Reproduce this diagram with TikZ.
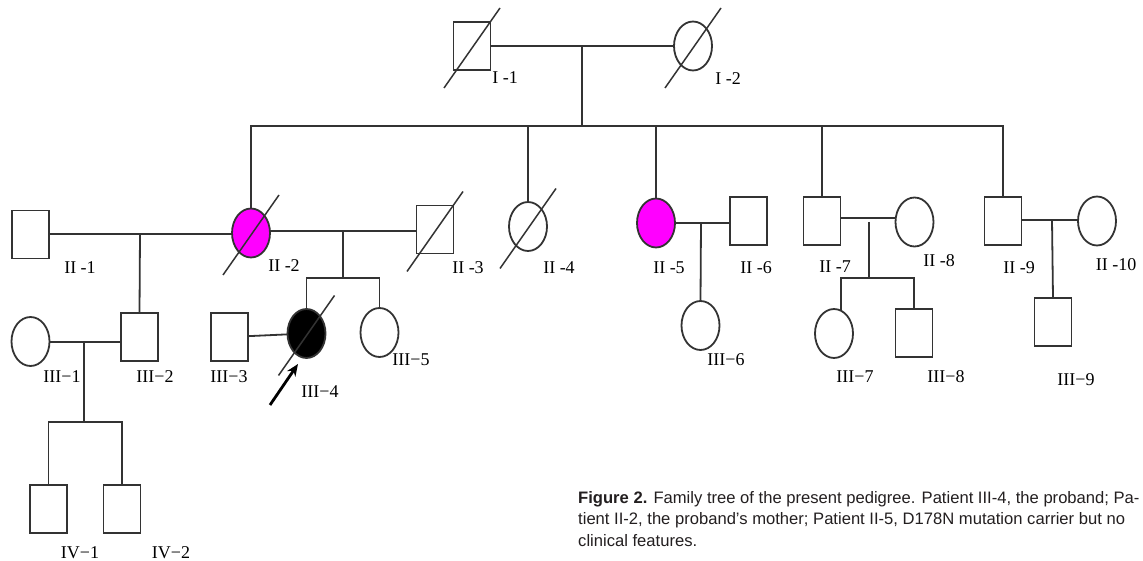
\documentclass[tikz,border=0pt]{standalone}
\usepackage{fontspec}
\usetikzlibrary{shapes.geometric,arrows.meta,calc}
\newfontfamily\lblfont{Liberation Serif}
\newfontfamily\capfont{Liberation Sans}
\definecolor{pedline}{HTML}{333333}
\definecolor{affmag}{HTML}{FF00FF}
\definecolor{captext}{HTML}{231F20}
\tikzset{
  pedlink/.style={draw=pedline, line width=1.8pt},
  male/.style={draw=pedline, line width=1.8pt, rectangle, minimum width=37pt, minimum height=48pt, inner sep=0pt, outer sep=0pt},
  female/.style={draw=pedline, line width=1.8pt, ellipse, minimum width=38pt, minimum height=49pt, inner sep=0pt, outer sep=0pt},
  carrier/.style={fill=affmag},
  affected/.style={fill=black},
  slashln/.style={draw=pedline, line width=1.5pt},
  idlbl/.style={font=\lblfont\fontsize{18}{18}\selectfont, text=black, inner sep=0pt},
  captionln/.style={font=\capfont\fontsize{16.6}{21}\selectfont, text=captext, inner sep=0pt, anchor=base west},
  probarrow/.style={draw=black, line width=2.8pt, -{Stealth[length=12pt,width=10pt]}}
}
\newcommand\deadslash[1]{\draw[slashln] ($(#1)+(-28,42)$) -- ($(#1)+(28,-38)$);}
\begin{document}
\begin{tikzpicture}[x=1pt,y=-1pt]
\useasboundingbox (0,0) rectangle (1143,561);
\fill[white] (0,0) rectangle (1143,561);
\clip (0,0) rectangle (1143,561);

% generation I
\node[male]   (I1) at (472,46) {};
\node[female] (I2) at (693,46) {};
\deadslash{I1}
\deadslash{I2}
\node[idlbl] (lI1) at (505,78) {I -1};
\node[idlbl] (lI2) at (728,79) {I -2};

% generation II
\node[male]            (II1)  at (30.5,234.5) {};
\node[female,carrier]  (II2)  at (251,233) {};
\node[male]            (II3)  at (435,229.5) {};
\node[female]          (II4)  at (528,226.5) {};
\node[female,carrier]  (II5)  at (656,223) {};
\node[male]            (II6)  at (748.5,221) {};
\node[male]            (II7)  at (822,221) {};
\node[female]          (II8)  at (914.5,222) {};
\node[male]            (II9)  at (1003,221) {};
\node[female]          (II10) at (1097,221) {};
\deadslash{II2}
\deadslash{II3}
\deadslash{II4}

\node[idlbl] at (80,268)   {II -1};
\node[idlbl] at (284,266)  {II -2};
\node[idlbl] at (468,268)  {II -3};
\node[idlbl] at (559,268)  {II -4};
\node[idlbl] at (669,268)  {II -5};
\node[idlbl] at (756,268)  {II -6};
\node[idlbl] at (835,267)  {II -7};
\node[idlbl] at (939,261)  {II -8};
\node[idlbl] at (1019,268) {II -9};
\node[idlbl] at (1116,265) {II -10};

% generation III
\node[female]          (III1) at (30.5,341.5) {};
\node[male]            (III2) at (139.5,337) {};
\node[male]            (III3) at (229.5,337) {};
\node[female,affected] (III4) at (306.5,333.5) {};
\node[female]          (III5) at (379.5,332.5) {};
\node[female]          (III6) at (700.5,325.5) {};
\node[female]          (III7) at (834,333.5) {};
\node[male]            (III8) at (914,333) {};
\node[male]            (III9) at (1053,322) {};
\deadslash{III4}

\node[idlbl] at (62,377)   {III−1};
\node[idlbl] at (155,377)  {III−2};
\node[idlbl] at (229,377)  {III−3};
\node[idlbl] at (320,392)  {III−4};
\node[idlbl] at (411,360)  {III−5};
\node[idlbl] at (726,360)  {III−6};
\node[idlbl] at (855,377)  {III−7};
\node[idlbl] at (946,377)  {III−8};
\node[idlbl] at (1076,380) {III−9};

% generation IV
\node[male] (IV1) at (48.5,509) {};
\node[male] (IV2) at (122,509) {};
\node[idlbl] at (80,553)  {IV−1};
\node[idlbl] at (171,553) {IV−2};

% couple and sibship junctions
\coordinate (mI)    at (582,46);
\coordinate (sibII) at (582,126);
\coordinate (m12)   at (140,234);
\coordinate (m23)   at (343,231);
\coordinate (s23)   at (343,278);
\coordinate (m56)   at (701,223);
\coordinate (m78)   at (869,218);
\coordinate (s78)   at (869,278);
\coordinate (m910)  at (1052,220);
\coordinate (mIII)  at (84,342);
\coordinate (sIII)  at (84,422);

% marriages
\draw[pedlink] (I1) -- (I2);
\draw[pedlink] (II1.east |- m12) -- (II2.west |- m12);
\draw[pedlink] (II2.east |- m23) -- (II3.west |- m23);
\draw[pedlink] (II5.east |- m56) -- (II6.west |- m56);
\draw[pedlink] (II7.east |- m78) -- (II8.west |- m78);
\draw[pedlink] (II9.east |- m910) -- (II10.west |- m910);
\draw[pedlink] (III1.east |- mIII) -- (III2.west |- mIII);
\draw[pedlink] (III3) -- (III4);

% descent lines
\draw[pedlink] (mI) -- (sibII);
\draw[pedlink] (II2.north) |- (sibII) -| (II9.north);
\draw[pedlink] (II4.north) -- (II4.north |- sibII);
\draw[pedlink] (II5.north) -- (II5.north |- sibII);
\draw[pedlink] (II7.north) -- (II7.north |- sibII);
\draw[pedlink] (m12) -- (III2.north);
\draw[pedlink] (m23) -- (s23);
\draw[pedlink] (III4.north) |- (s23) -| (III5.north);
\draw[pedlink] (m56) -- (III6.north);
\draw[pedlink] ([yshift=-4pt]m78) -- (s78);
\draw[pedlink] (III7.73) |- (s78) -| (III8.north);
\draw[pedlink] (m910) -- (III9.north);
\draw[pedlink] (mIII) -- (sIII);
\draw[pedlink] (IV1.north) |- (sIII) -| (IV2.north);

% proband arrow
\coordinate (ptail) at (270,405);
\draw[probarrow] (ptail) -- ($(III4)+(-8.5,30.5)$);

% caption
\node[captionln] (cap1) at (578,503) {\textbf{Figure 2.} Family tree of the present pedigree. Patient III-4, the proband; Pa-};
\node[captionln] (cap2) at (578,524) {tient II-2, the proband’s mother; Patient II-5, D178N mutation carrier but no};
\node[captionln] (cap3) at (578,546) {clinical features.};
\end{tikzpicture}
\end{document}
